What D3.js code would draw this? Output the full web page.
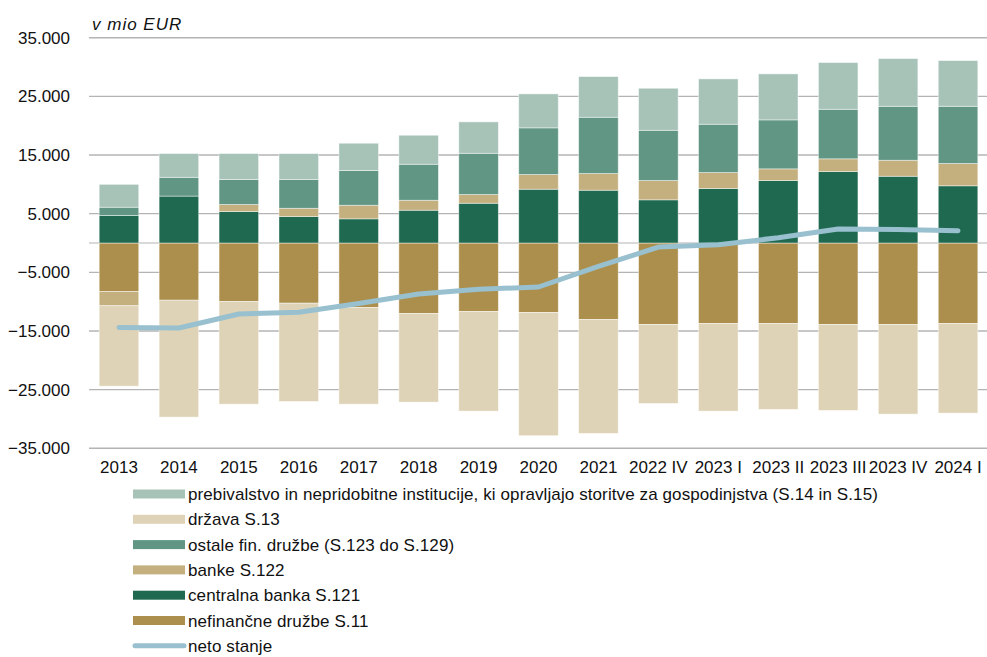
<!DOCTYPE html>
<html>
<head>
<meta charset="utf-8">
<script src="https://cdn.jsdelivr.net/npm/d3@7"></script>
<style>
  body { margin: 0; background: #fff; }
  svg text { font-family: "Liberation Sans", Arial, sans-serif; fill: #111; }
</style>
</head>
<body>
<svg id="chart" width="987" height="657"></svg>
<script>
const categories = ['2013', '2014', '2015', '2016', '2017', '2018', '2019', '2020', '2021',
                    '2022 IV', '2023 I', '2023 II', '2023 III', '2023 IV', '2024 I'];

// v mio EUR
const prebivalstvo = [3900, 4050, 4430, 4430, 4660, 4940, 5350, 5790, 6930, 7160, 7730, 7840, 7960, 8130, 7790];
const drzava = [-13700, -19930, -17500, -16750, -16480, -15120, -16990, -21010, -19420, -13460, -14940, -14650, -14650, -15280, -15280];
const ostale = [1400, 3200, 4260, 4890, 5910, 6140, 7040, 7960, 9600, 8570, 8240, 8350, 8450, 9200, 9760];
const banke = [-2440, 0, 1190, 1420, 2320, 1700, 1480, 2500, 2840, 3290, 2720, 1990, 2170, 2730, 3800];
const centralna = [4700, 8000, 5370, 4500, 4120, 5590, 6780, 9170, 9000, 7360, 9290, 10650, 12180, 11380, 9750];
const nefinancne = [-8260, -9750, -9970, -10260, -10990, -12010, -11670, -11840, -13040, -13890, -13720, -13720, -13890, -13890, -13720];
const neto = [-14400, -14500, -12100, -11800, -10300, -8700, -7900, -7500, -4000, -700, -300, 900, 2400, 2300, 2100];

const yTicks = [35000, 25000, 15000, 5000, -5000, -15000, -25000, -35000];

const series = [
  {key: 'prebivalstvo', name: 'prebivalstvo in nepridobitne institucije, ki opravljajo storitve za gospodinjstva (S.14 in S.15)', color: '#a7c3b8', values: prebivalstvo},
  {key: 'drzava', name: 'država S.13', color: '#ded3b6', values: drzava},
  {key: 'ostale', name: 'ostale fin. družbe (S.123 do S.129)', color: '#609683', values: ostale},
  {key: 'banke', name: 'banke S.122', color: '#c4b07f', values: banke},
  {key: 'centralna', name: 'centralna banka S.121', color: '#1f6950', values: centralna},
  {key: 'nefinancne', name: 'nefinančne družbe S.11', color: '#ad8f4d', values: nefinancne}
];
const lineColor = '#98c0cf';

// stacking order: positives go up centralna > banke > ostale > prebivalstvo,
// negatives go down nefinancne > banke > drzava
const stackKeys = ['nefinancne', 'centralna', 'banke', 'ostale', 'drzava', 'prebivalstvo'];

const rows = categories.map((c, i) => {
  const r = {cat: c};
  series.forEach(s => r[s.key] = s.values[i]);
  return r;
});

const svg = d3.select('#chart');
const plotLeft = 89, plotRight = 988, plotTop = 37.7, plotBottom = 448.3;

const x = d3.scaleBand().domain(categories).range([plotLeft, plotRight]).paddingInner(0.34).paddingOuter(0.17);
const y = d3.scaleLinear().domain([-35000, 35000]).range([plotBottom, plotTop]);

// gridlines
svg.append('g').selectAll('line').data(yTicks).join('line')
  .attr('x1', plotLeft).attr('x2', 987)
  .attr('y1', d => y(d)).attr('y2', d => y(d))
  .attr('stroke', '#b4b4b4').attr('stroke-width', 1.4);
svg.append('line')
  .attr('x1', plotLeft).attr('x2', 987).attr('y1', y(0)).attr('y2', y(0))
  .attr('stroke', '#d9d9d9').attr('stroke-width', 2);

// y labels
svg.append('g').selectAll('text').data(yTicks).join('text')
  .attr('x', 70).attr('y', d => y(d) + 6)
  .attr('text-anchor', 'end')
  .attr('font-size', 17)
  .text(d => d3.format(',')(d).replace(/,/g, '.'));

svg.append('text').attr('x', 92).attr('y', 30)
  .attr('font-size', 17).attr('font-style', 'italic').attr('letter-spacing', 1)
  .text('v mio EUR');

// bars
const stacked = d3.stack().keys(stackKeys).offset(d3.stackOffsetDiverging)(rows);
const colorOf = k => series.find(s => s.key === k).color;

svg.append('g').selectAll('g').data(stacked).join('g')
  .attr('fill', d => colorOf(d.key))
  .selectAll('rect').data(d => d).join('rect')
  .attr('x', d => x(d.data.cat))
  .attr('width', x.bandwidth())
  .attr('y', d => y(Math.max(d[0], d[1])))
  .attr('height', d => Math.abs(y(d[0]) - y(d[1])))
  .attr('stroke', 'rgba(255,255,255,0.55)').attr('stroke-width', 0.8);

// neto line
const line = d3.line()
  .x((d, i) => x(categories[i]) + x.bandwidth() / 2)
  .y(d => y(d));
svg.append('path').datum(neto)
  .attr('d', line)
  .attr('fill', 'none').attr('stroke', lineColor)
  .attr('stroke-width', 5).attr('stroke-linecap', 'round').attr('stroke-linejoin', 'round');

// x labels
svg.append('g').selectAll('text').data(categories).join('text')
  .attr('x', d => x(d) + x.bandwidth() / 2).attr('y', 473)
  .attr('text-anchor', 'middle')
  .attr('font-size', 17)
  .text(d => d);

// legend
const legend = svg.append('g');
const legendItems = series.map(s => ({name: s.name, color: s.color, line: false}))
  .concat([{name: 'neto stanje', color: lineColor, line: true}]);
const lg = legend.selectAll('g').data(legendItems).join('g')
  .attr('transform', (d, i) => `translate(0, ${494 + i * 25.3})`);
lg.filter(d => !d.line).append('rect')
  .attr('x', 133).attr('y', -4.5).attr('width', 52).attr('height', 9)
  .attr('fill', d => d.color);
lg.filter(d => d.line).append('line')
  .attr('x1', 135).attr('x2', 184).attr('y1', 0).attr('y2', 0)
  .attr('stroke', d => d.color).attr('stroke-width', 5).attr('stroke-linecap', 'round');
lg.append('text')
  .attr('x', 188).attr('y', 6)
  .attr('font-size', 17).attr('letter-spacing', 0.1)
  .text(d => d.name);
</script>
</body>
</html>
